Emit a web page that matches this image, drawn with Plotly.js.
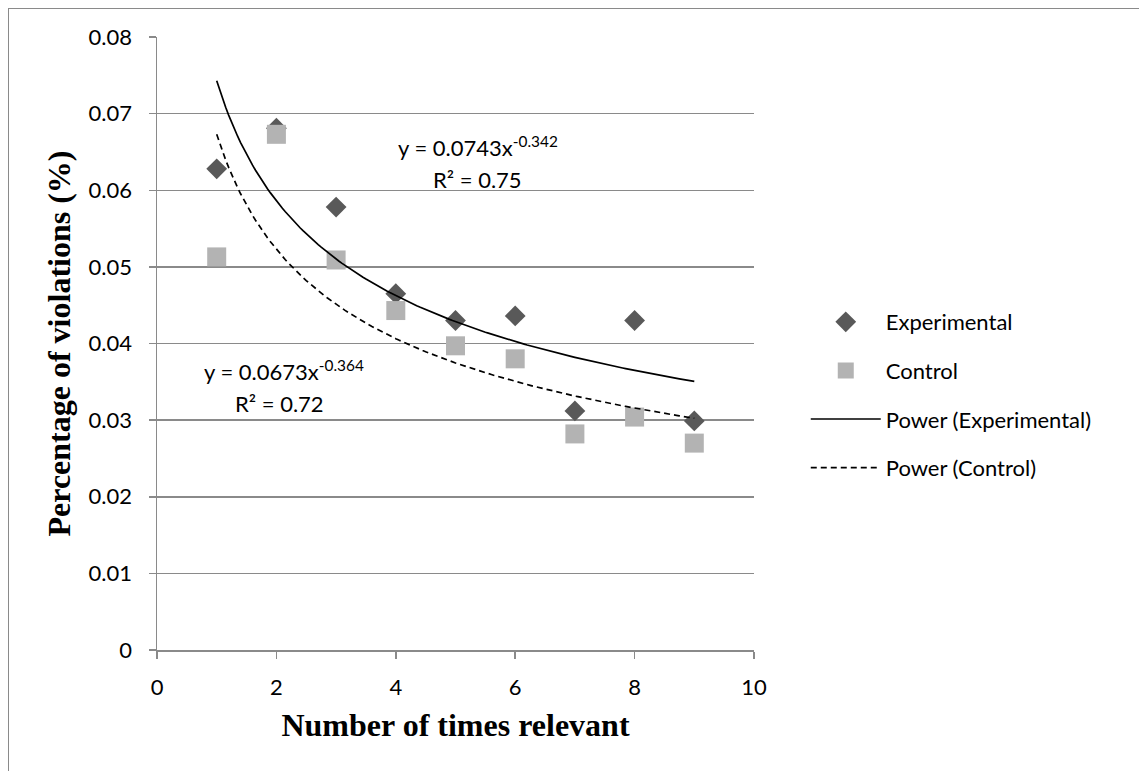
<!DOCTYPE html>
<html>
<head>
<meta charset="utf-8">
<script src="https://cdn.plot.ly/plotly-3.0.1.min.js"></script>
<style>
  html, body { margin: 0; padding: 0; background: #ffffff; }
  #frame { position: absolute; left: 8px; top: 8px; right: 0; bottom: 0;
           border-top: 1.5px solid #8a8a8a; border-left: 1.5px solid #8a8a8a; pointer-events: none; z-index: 5; }
  #chart { width: 1139px; height: 771px; }
</style>
</head>
<body>
<div id="chart"></div>
<div id="frame"></div>
<script>
// Number of times relevant
const timesRelevant = [1, 2, 3, 4, 5, 6, 7, 8, 9];
// Percentage of violations
const experimental = [0.0628, 0.0681, 0.0578, 0.0465, 0.0430, 0.0436, 0.0312, 0.0430, 0.0299];
const control      = [0.0513, 0.0673, 0.0509, 0.0443, 0.0397, 0.0380, 0.0282, 0.0304, 0.0270];
// Power trendline coefficients shown on the chart: y = a * x^b
const trendExp = { a: 0.0743, b: -0.342, r2: 0.75 };
const trendCtrl = { a: 0.0673, b: -0.364, r2: 0.72 };
const xTicks = [0, 2, 4, 6, 8, 10];
const yTicks = [0, 0.01, 0.02, 0.03, 0.04, 0.05, 0.06, 0.07, 0.08];
const yTickText = ['0', '0.01', '0.02', '0.03', '0.04', '0.05', '0.06', '0.07', '0.08'];

// trendline curve evaluated over the data's x range
const xMin = Math.min(...timesRelevant), xMax = Math.max(...timesRelevant);
const curveX = [];
for (let i = 0; i <= 160; i++) curveX.push(xMin + (xMax - xMin) * i / 160);
const curve = t => curveX.map(x => t.a * Math.pow(x, t.b));

const tickFont = { family: 'Lato, "Open Sans", sans-serif', size: 22, color: '#000' };
const titleFont = { family: '"Liberation Serif", "Times New Roman", serif', size: 32, color: '#000', weight: 'bold' };
const grey = '#8a8a8a';

const traces = [
  { x: timesRelevant, y: experimental, type: 'scatter', mode: 'markers', name: 'Experimental',
    legendgroup: 'a',
    marker: { symbol: 'diamond', size: 16, color: '#595959', line: { width: 0 } } },
  { x: timesRelevant, y: control, type: 'scatter', mode: 'markers', name: 'Control',
    legendgroup: 'b',
    marker: { symbol: 'square', size: 19, color: '#b3b3b3', line: { width: 0 } } },
  { x: curveX, y: curve(trendExp), type: 'scatter', mode: 'lines', name: 'Power (Experimental)',
    legendgroup: 'c',
    line: { color: '#000', width: 1.7 } },
  { x: curveX, y: curve(trendCtrl), type: 'scatter', mode: 'lines', name: 'Power (Control)',
    legendgroup: 'd',
    line: { color: '#000', width: 1.7, dash: '6px,4px' } }
];

const annFont = { family: 'Lato, "Open Sans", sans-serif', size: 22, color: '#000' };
const layout = {
  width: 1139, height: 771,
  margin: { l: 157, r: 385, t: 37, b: 121 },
  paper_bgcolor: '#fff', plot_bgcolor: '#fff',
  showlegend: true,
  legend: {
    x: 1.0867, xanchor: 'left', y: 0.416, yanchor: 'middle',
    font: annFont, tracegroupgap: 17, traceorder: 'grouped', itemwidth: 70,
    bgcolor: 'rgba(0,0,0,0)'
  },
  xaxis: {
    range: [0, 10], tickvals: xTicks, ticktext: xTicks.map(String),
    showgrid: false, zeroline: false,
    showline: true, linecolor: grey, linewidth: 1.5,
    ticks: 'outside', ticklen: 7, tickcolor: grey, tickwidth: 1.5,
    tickfont: tickFont, ticklabelstandoff: 10,
    title: { text: 'Number of times relevant', font: titleFont, standoff: 14 }
  },
  yaxis: {
    range: [0, 0.08], tickvals: yTicks, ticktext: yTickText,
    showgrid: true, gridcolor: grey, gridwidth: 1.5, zeroline: false,
    showline: true, linecolor: grey, linewidth: 1.5,
    ticks: 'outside', ticklen: 7, tickcolor: grey, tickwidth: 1.5,
    tickfont: tickFont, ticklabelstandoff: 12,
    title: { text: 'Percentage of violations (%)', font: titleFont, standoff: 8 }
  },
  annotations: [
    { x: 5.37, y: (650 - 146) / 7667, xref: 'x', yref: 'y', showarrow: false,
      text: 'y = 0.0743x<sup>-0.342</sup>', font: annFont },
    { x: 5.37, y: (650 - 179) / 7667, xref: 'x', yref: 'y', showarrow: false,
      text: 'R² = 0.75', font: annFont },
    { x: 2.12, y: (650 - 370) / 7667, xref: 'x', yref: 'y', showarrow: false,
      text: 'y = 0.0673x<sup>-0.364</sup>', font: annFont },
    { x: 2.05, y: (650 - 403) / 7667, xref: 'x', yref: 'y', showarrow: false,
      text: 'R² = 0.72', font: annFont }
  ]
};

Plotly.newPlot('chart', traces, layout, { displayModeBar: false, staticPlot: true });
</script>
</body>
</html>
